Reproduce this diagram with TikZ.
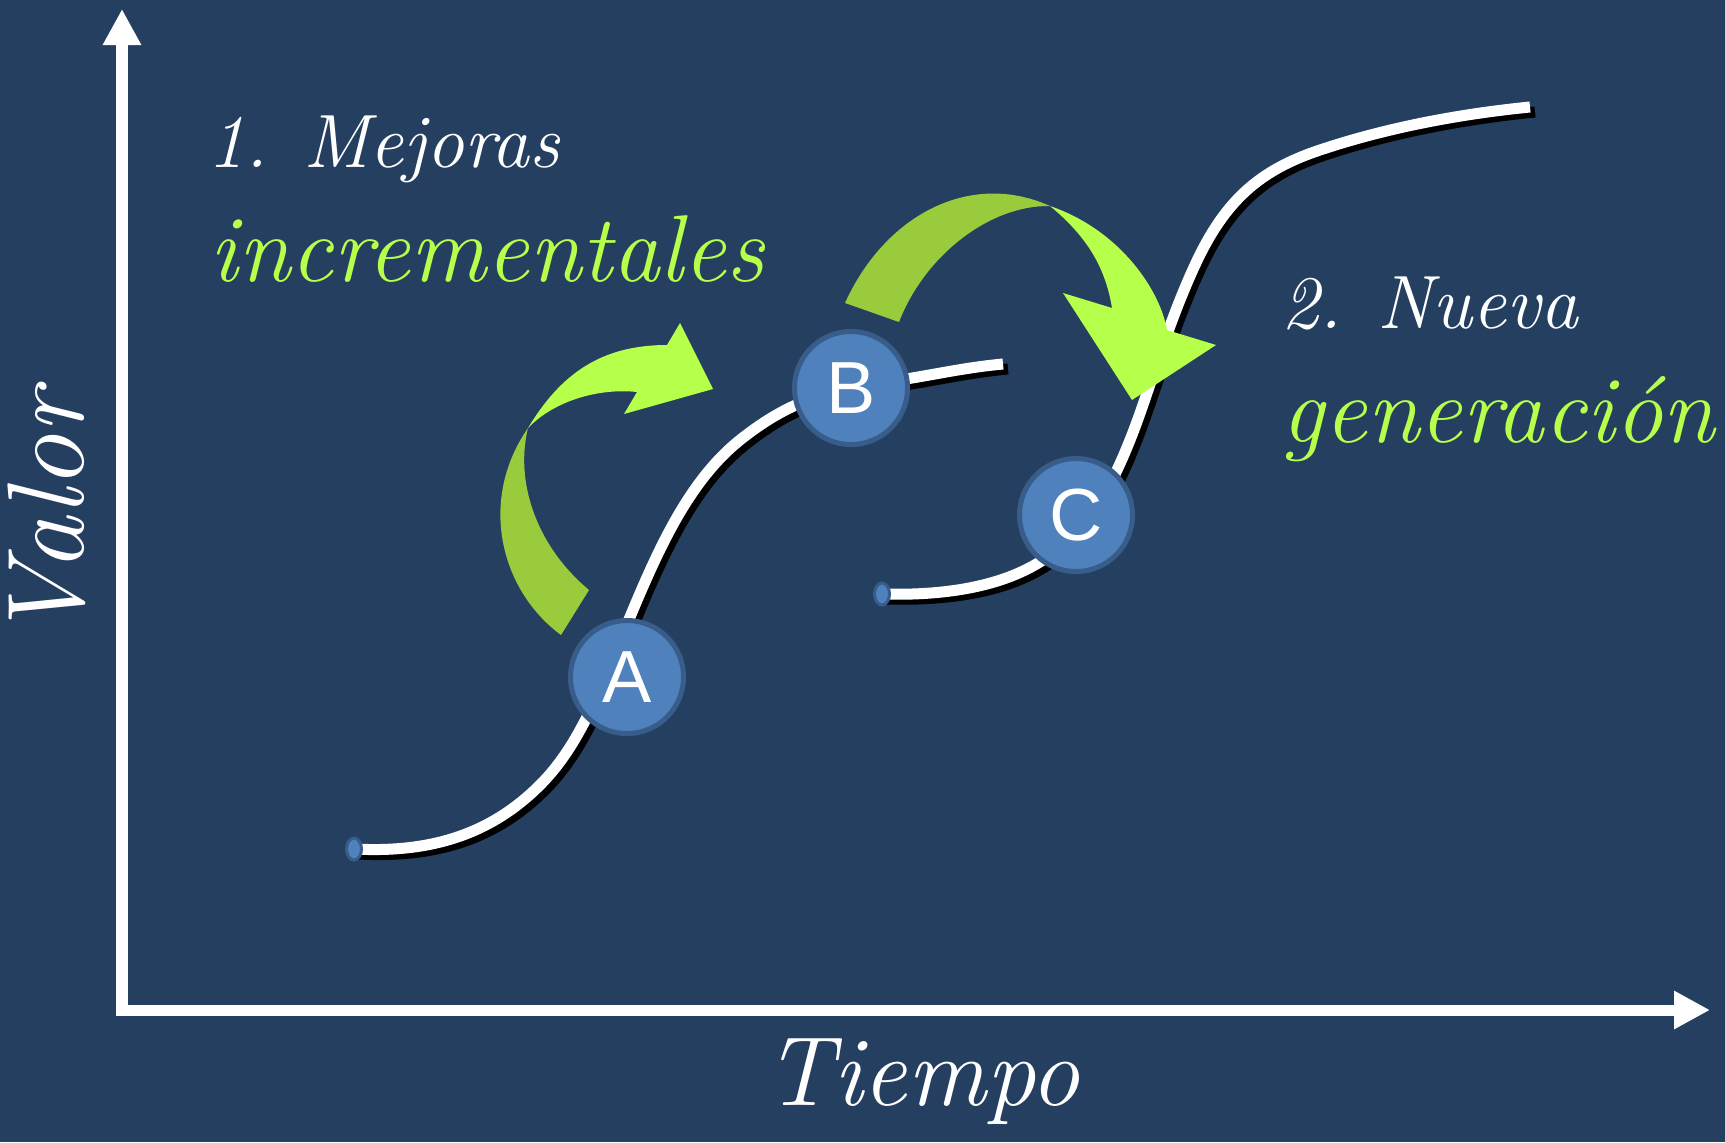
\documentclass[tikz,border=0pt]{standalone}
\usepackage{fontspec}
\usepackage{tikz}
\usetikzlibrary{ arrows.meta,      % For the axis tips
                 shapes.geometric, % For the small start dots
                 positioning,
               }
\newfontfamily\letterfont{Liberation Sans}
\definecolor{bgblue}{RGB}{37,63,96}
\definecolor{dotblue}{RGB}{79,129,189}
\definecolor{dotrim}{RGB}{56,93,138}
\definecolor{arrowlime}{RGB}{182,255,74}
\definecolor{arrowolive}{RGB}{154,203,60}
\tikzstyle{axis} = [line width=0.11cm, white, {Triangle[length=0.36cm,width=0.36cm]}-{Triangle[length=0.36cm,width=0.36cm]}]
\tikzstyle{curve} = [line width=0.11cm, white]
\tikzstyle{curve_shadow} = [line width=0.11cm, black, shift={(5,5)}]
\tikzstyle{stage} = [circle, minimum size=1.13cm, inner sep=0pt, fill=dotblue, draw=dotrim, line width=0.05cm, text=white, font=\letterfont\fontsize{21}{21}\selectfont]
\tikzstyle{startdot} = [ellipse, minimum width=0.15cm, minimum height=0.22cm, inner sep=0pt, fill=dotblue, draw=dotrim, line width=0.03cm]
\tikzstyle{note} = [text=white, inner sep=0pt, font=\itshape\fontsize{21.5}{26}\selectfont]
\tikzstyle{note_big} = [text=arrowlime, inner sep=0pt, font=\itshape\fontsize{27}{32}\selectfont]

\newcommand{\firstgen}{(354,849) .. controls (430,853) and (490,835) .. (540,785)
  .. controls (580,745) and (600,690) .. (630,617)
  .. controls (660,545) and (690,480) .. (740,440)
  .. controls (790,400) and (830,390) .. (880,383)
  .. controls (930,376) and (960,368) .. (1003,364)}
\newcommand{\secondgen}{(882,594) .. controls (950,596) and (1010,585) .. (1050,555)
  .. controls (1090,525) and (1110,490) .. (1130,440)
  .. controls (1150,390) and (1165,330) .. (1195,265)
  .. controls (1225,200) and (1260,170) .. (1320,150)
  .. controls (1380,130) and (1450,115) .. (1530,107)}

\begin{document}
\begin{tikzpicture}[x=0.01cm, y=-0.01cm]
  \fill[bgblue] (0,0) rectangle (1725,1142);

  % axes
  \coordinate (ytop) at (122,9);
  \coordinate (xend) at (1710,1010);
  \draw[axis] (ytop) |- (xend);

  % the two S-curves
  \draw[curve_shadow] \firstgen;
  \draw[curve] \firstgen;
  \draw[curve_shadow] \secondgen;
  \draw[curve] \secondgen;

  \node (s1) [startdot] at (354,849) {};
  \node (s2) [startdot] at (882,594) {};

  % small arrow
  \fill[arrowolive] (561,635) .. controls (500,590) and (478,500) .. (528,428)
    .. controls (515,480) and (535,545) .. (589,590) -- cycle;
  \fill[arrowlime] (528,428) .. controls (560,375) and (600,345) .. (667,345)
    -- (680,323) -- (713,389) -- (624,414) -- (637,392)
    .. controls (600,388) and (555,400) .. (528,428) -- cycle;

  % big arrow
  \fill[arrowolive] (845,303) .. controls (885,215) and (970,170) .. (1050,206)
    .. controls (990,205) and (925,255) .. (899,322) -- cycle;
  \fill[arrowlime] (1050,206) .. controls (1120,230) and (1160,290) .. (1167,330)
    -- (1216,345) -- (1132,400) -- (1063,293) -- (1112,308)
    .. controls (1105,265) and (1085,235) .. (1050,206) -- cycle;

  \node (A) [stage] at (627,677) {A};
  \node (B) [stage] at (851,388) {B};
  \node (C) [stage] at (1076,515) {C};

  \node (mejoras) [note, anchor=base west] at (207,167) {1. Mejoras};
  \node (incr) [note_big, anchor=base west] at (209,281) {incrementales};
  \node (nueva) [note, anchor=base west] at (1281,328) {2. Nueva};
  \node (gen) [note_big, anchor=base west] at (1281,442) {generación};
  \node (valor) [note, font=\itshape\fontsize{31}{34}\selectfont, rotate=90, anchor=base] at (83,516) {Valor};
  \node (tiempo) [note, font=\itshape\fontsize{28}{32}\selectfont, anchor=base] at (922,1105) {Tiempo};
\end{tikzpicture}
\end{document}
